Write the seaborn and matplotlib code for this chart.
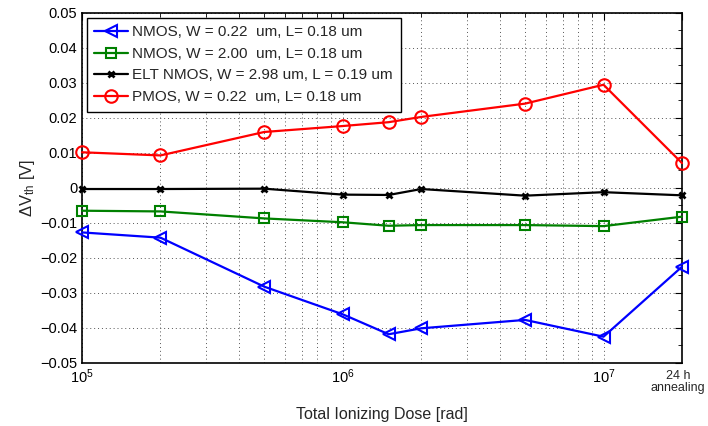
import numpy as np
import pandas as pd
import seaborn as sns
import matplotlib.pyplot as plt
from matplotlib.ticker import FixedLocator, LogLocator, NullFormatter, MultipleLocator

dose = [1e5, 2e5, 5e5, 1e6, 1.5e6, 2e6, 5e6, 1e7, 2e7]
nmos_022 = [-0.0127, -0.0142, -0.0282, -0.0361, -0.0418, -0.0401, -0.0377, -0.0425, -0.0225]
nmos_200 = [-0.0065, -0.0067, -0.0087, -0.0098, -0.0108, -0.0106, -0.0106, -0.0109, -0.0082]
elt_nmos = [-0.0003, -0.0003, -0.0002, -0.0019, -0.0020, -0.0003, -0.0022, -0.0012, -0.0021]
pmos_022 = [0.0102, 0.0093, 0.0160, 0.0177, 0.0188, 0.0203, 0.0241, 0.0295, 0.0071]

labels = ["NMOS, W = 0.22  um, L= 0.18 um",
          "NMOS, W = 2.00  um, L= 0.18 um",
          "ELT NMOS, W = 2.98 um, L = 0.19 um",
          "PMOS, W = 0.22  um, L= 0.18 um"]
series = [nmos_022, nmos_200, elt_nmos, pmos_022]
colors = ["#0000ff", "#008000", "#000000", "#ff0000"]
markers = ["<", "s", "x", "o"]
msizes = [9, 6.5, 5, 9]

xtick_pos = [1e5, 1e6, 1e7, 2e7]
xtick_lab = ["$10^5$", "$10^6$", "$10^7$", ""]
anneal_lab = "24 h\nannealing"

sns.set_style("white")
plt.rcParams['font.family'] = ['Liberation Sans', 'DejaVu Sans']
plt.rcParams['mathtext.fontset'] = 'custom'
plt.rcParams['mathtext.rm'] = 'Liberation Sans'
plt.rcParams['mathtext.it'] = 'Liberation Sans'

fig = plt.figure(figsize=(7.08, 4.26), dpi=100)
ax = fig.add_axes([0.1158, 0.148, 0.8475, 0.8215])

for vals, lab, c, m, ms in zip(series, labels, colors, markers, msizes):
    df = pd.DataFrame({"dose": dose, "dv": vals})
    sns.lineplot(data=df, x="dose", y="dv", ax=ax, color=c, marker=m,
                 markersize=ms, markerfacecolor="none", markeredgecolor=c,
                 markeredgewidth=1.5 if m != "x" else 2, linewidth=1.6, label=lab)
# MATLAB-style: markers on the edge are not clipped
for ln in ax.lines:
    ln.set_clip_on(False)
    ln.set_zorder(5)

ax.set_xscale("log")
ax.set_xlim(1e5, 2e7)
ax.set_ylim(-0.05, 0.05)

ax.xaxis.set_major_locator(FixedLocator(xtick_pos))
ax.set_xticklabels(xtick_lab)
ax.xaxis.set_minor_locator(LogLocator(base=10, subs=np.arange(2, 10), numticks=20))
ax.xaxis.set_minor_formatter(NullFormatter())

# last tick label as separate text, nudged left so it stays inside the figure
ax.annotate(anneal_lab, xy=(xtick_pos[3], 0), xycoords=ax.get_xaxis_transform(),
            xytext=(-3, -5), textcoords="offset points", ha="center", va="top",
            fontsize=9, linespacing=1.05)

ax.yaxis.set_major_locator(MultipleLocator(0.01))
ax.yaxis.set_minor_locator(MultipleLocator(0.005))
yt = np.round(np.arange(-0.05, 0.051, 0.01), 2)
ax.set_yticks(yt)
ax.set_yticklabels(["0" if v == 0 else f"{v:.2f}".replace("-", "\u2212") for v in yt])

ax.grid(True, which="major", linestyle=(0, (1, 3)), color="#555555", linewidth=0.7)
ax.grid(True, which="minor", axis="x", linestyle=(0, (1, 3)), color="#555555", linewidth=0.7)

ax.tick_params(which="both", direction="in", top=True, right=True, labelsize=10.5, colors="black")
ax.tick_params(which="major", length=5)
ax.tick_params(which="minor", length=3)
for s in ax.spines.values():
    s.set_color("black")
    s.set_linewidth(1.2)

ax.set_xlabel("Total Ionizing Dose [rad]", fontsize=11.5, labelpad=6)
ax.xaxis.set_label_coords(0.5, -0.125)
ax.set_ylabel(r"$\Delta$V$_{\rm th}$ [V]", fontsize=12, labelpad=2)

leg = ax.legend(loc="upper left", fontsize=11, frameon=True, fancybox=False,
                edgecolor="black", framealpha=1, borderaxespad=0.3,
                handlelength=2.2, handletextpad=0.3, labelspacing=0.5,
                borderpad=0.5)
leg.get_frame().set_linewidth(1.0)
leg.set_zorder(10)

fig.savefig("out.png", dpi=100)
